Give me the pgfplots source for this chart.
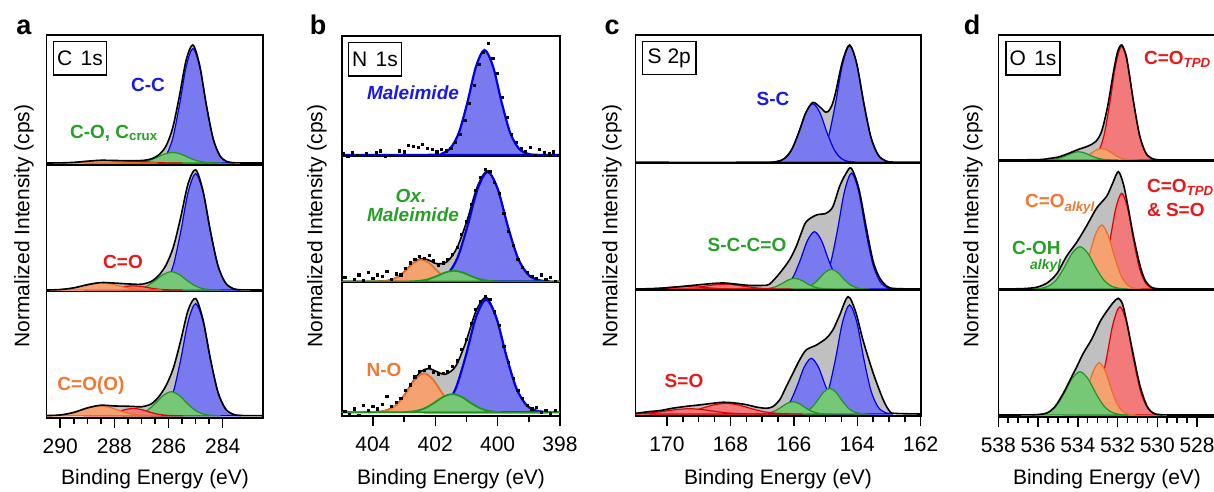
\documentclass[border=0pt]{standalone}
\usepackage{fontspec}
\setmainfont{Liberation Sans}
\usepackage{pgfplots}
\usepackage{pgfplotstable}
\pgfplotsset{compat=1.18}
\definecolor{envg}{RGB}{192,192,192}
\definecolor{bfill}{RGB}{122,122,240}
\definecolor{bline}{RGB}{0,0,225}
\definecolor{gfill}{RGB}{118,200,118}
\definecolor{gline}{RGB}{30,150,30}
\definecolor{rfill}{RGB}{242,122,122}
\definecolor{rline}{RGB}{225,0,0}
\definecolor{ofill}{RGB}{245,162,112}
\definecolor{oline}{RGB}{235,110,40}
\definecolor{btxt}{RGB}{25,25,235}
\definecolor{gtxt}{RGB}{40,160,40}
\definecolor{rtxt}{RGB}{232,25,25}
\definecolor{otxt}{RGB}{240,120,50}
\pgfplotsset{
  xps/.style={scale only axis, anchor=south west, x dir=reverse,
    axis line style={line width=0.8pt}, xtick=\empty, ytick=\empty,
    /pgf/number format/assume math mode=true, /pgf/number format/1000 sep={},
    tick label style={font=\fontsize{10.5}{12}\selectfont}},
  xpsbot/.style={xtick pos=bottom, tick align=outside, major tick length=5.3pt,
    minor tick length=3.3pt, every tick/.style={line width=0.75pt, black},
    xticklabel style={yshift=-1.8pt}},
  env/.style={fill=envg, draw=none, smooth},
  envline/.style={black, line width=0.8pt, smooth},
  comp/.style 2 args={fill=#1, draw=#2, line width=0.6pt, smooth},
  dots/.style={only marks, mark=square*, mark size=0.55pt, black},
}
% ---------- envelopes ----------
\pgfplotstableread{
E y
282.5 0
283.5 0.001
283.85 0.013
284.1 0.061
284.35 0.205
284.6 0.489
284.85 0.829
285.1 1.000
285.35 0.871
285.6 0.565
285.85 0.294
286.1 0.141
286.35 0.071
286.6 0.038
286.85 0.024
287.1 0.020
287.5 0.020
288.0 0.021
288.5 0.023
289.0 0.015
289.5 0.005
290.0 0.001
290.5 0
}\envAa
\pgfplotstableread{
E y
282.5 0
283.35 0.002
283.625 0.013
283.9 0.061
284.175 0.204
284.45 0.488
284.725 0.826
285.0 1.002
285.275 0.888
285.55 0.606
285.825 0.356
286.1 0.205
286.375 0.119
286.65 0.070
287.0 0.048
287.3 0.049
287.6 0.052
288.0 0.058
288.5 0.062
289.0 0.044
289.5 0.018
290.0 0.004
290.5 0
}\envAb
\pgfplotstableread{
E y
282.5 0
283.35 0.002
283.625 0.013
283.9 0.060
284.175 0.201
284.45 0.481
284.725 0.817
285.0 0.998
285.275 0.899
285.55 0.639
285.825 0.403
286.1 0.253
286.375 0.157
286.65 0.099
287.0 0.076
287.3 0.079
287.6 0.081
288.0 0.083
288.5 0.089
289.0 0.066
289.5 0.028
290.0 0.006
290.5 0.001
}\envAc
\pgfplotstableread{
E y
398 0
398.37 0.002
398.695 0.013
399.02 0.063
399.345 0.210
399.67 0.500
399.995 0.842
400.32 1.007
400.645 0.868
400.97 0.565
401.295 0.311
401.62 0.180
401.95 0.162
402.2 0.194
402.45 0.208
402.7 0.170
402.95 0.100
403.2 0.042
403.5 0.009
404 0
405 0
}\envBb
\pgfplotstableread{
E y
398 0
398.42 0.002
398.745 0.013
399.07 0.062
399.395 0.208
399.72 0.496
400.045 0.836
400.37 1.007
400.695 0.887
401.02 0.615
401.345 0.404
401.67 0.334
401.95 0.356
402.2 0.383
402.45 0.360
402.7 0.276
402.95 0.167
403.2 0.078
403.5 0.023
403.8 0.004
404.2 0
405 0
}\envBc
\pgfplotstableread{
E y
162 0
162.89 0.002
163.115 0.013
163.34 0.062
163.565 0.209
163.79 0.498
164.015 0.837
164.24 1.000
164.465 0.862
164.69 0.587
164.8 0.486
164.915 0.433
165.0 0.427
165.175 0.470
165.4 0.510
165.625 0.422
165.85 0.250
166.075 0.105
166.3 0.031
166.525 0.007
166.75 0.001
167.5 0
171 0
}\envCa
\pgfplotstableread{
E y
162 0
162.8 0.004
163.05 0.02
163.29 0.09
163.5 0.23
163.71 0.5
163.95 0.83
164.19 1.0
164.37 0.95
164.56 0.848
164.77 0.682
164.98 0.627
165.29 0.613
165.61 0.558
165.77 0.461
165.93 0.35
166.14 0.24
166.45 0.13
166.77 0.04
167.0 0.03
167.4 0.03
167.8 0.04
168.2 0.05
168.6 0.045
169.0 0.035
169.4 0.025
169.8 0.015
170.3 0.005
171 0
}\envCb
\pgfplotstableread{
E y
162 0
162.8 0.005
162.97 0.02
163.18 0.12
163.5 0.35
163.82 0.63
164.05 0.87
164.29 1.0
164.56 0.84
164.77 0.716
164.98 0.645
165.29 0.588
165.61 0.546
165.82 0.46
166.03 0.347
166.24 0.233
166.45 0.119
166.67 0.062
166.88 0.049
167.2 0.06
167.5 0.08
167.93 0.096
168.24 0.10
168.6 0.09
168.99 0.077
169.4 0.065
169.83 0.049
170.2 0.03
170.57 0.02
171 0.005
}\envCc
\pgfplotstableread{
E y
538 0
536 0.003
535.5 0.012
535 0.025
534.5 0.055
534 0.09
533.5 0.12
533.1 0.16
532.8 0.25
532.5 0.465
532.2 0.77
531.99 0.945
531.79 1.0
531.59 0.923
531.49 0.836
531.19 0.5
530.89 0.215
530.59 0.065
530.29 0.015
529.99 0.002
529.5 0
527 0
}\envDa
\pgfplotstableread{
E y
538 0
537 0.002
536.5 0.006
536.07 0.015
535.56 0.05
535.06 0.13
534.56 0.28
534.05 0.40
533.55 0.54
533.05 0.69
532.55 0.79
532.25 0.9
531.96 1.0
531.7 0.89
531.45 0.68
531.2 0.45
530.87 0.2
530.6 0.07
530.3 0.015
530.0 0.003
529.5 0
527 0
}\envDb
\pgfplotstableread{
E y
538 0
536.2 0.002
535.56 0.017
535.15 0.071
534.73 0.186
534.39 0.30
534.05 0.414
533.72 0.53
533.3 0.65
532.88 0.80
532.54 0.89
532.21 0.965
531.96 1.0
531.75 0.95
531.54 0.80
531.2 0.51
530.87 0.25
530.53 0.08
530.2 0.015
529.8 0.002
529 0
527 0
}\envDc
\begin{document}
\begin{tikzpicture}
\useasboundingbox (0,0) rectangle (607pt,246pt);
% ================= panel a =================
\begin{axis}[xps, at={(23.35pt,163.5pt)}, width=108.3pt, height=65pt,
  xmin=282.5, xmax=290.5, ymin=-0.017, ymax=1.085]
\addplot[env] table {\envAa} \closedcycle;
\addplot[comp={bfill}{bline}] coordinates {(283.6,0.0019)(283.85,0.0127)(284.1,0.0606)(284.35,0.2039)(284.6,0.485)(284.85,0.8157)(285.1,0.97)(285.35,0.8157)(285.6,0.485)(285.85,0.2039)(286.1,0.0606)(286.35,0.0127)(286.6,0.0019)} \closedcycle;
\addplot[comp={gfill}{gline}] coordinates {(284.05,0.0002)(284.35,0.0012)(284.65,0.0056)(284.95,0.0189)(285.25,0.045)(285.55,0.0757)(285.85,0.09)(286.15,0.0757)(286.45,0.045)(286.75,0.0189)(287.05,0.0056)(287.35,0.0012)(287.65,0.0002)} \closedcycle;
\addplot[comp={rfill}{rline}] coordinates {(285.5,0)(285.8,0.0002)(286.1,0.0009)(286.4,0.0032)(286.7,0.0075)(287.0,0.0126)(287.3,0.015)(287.6,0.0126)(287.9,0.0075)(288.2,0.0032)(288.5,0.0009)(288.8,0.0002)(289.1,0)} \closedcycle;
\addplot[comp={ofill}{oline}] coordinates {(286.4,0)(286.75,0.0003)(287.1,0.0014)(287.45,0.0046)(287.8,0.011)(288.15,0.0185)(288.5,0.022)(288.85,0.0185)(289.2,0.011)(289.55,0.0046)(289.9,0.0014)(290.25,0.0003)(290.6,0)} \closedcycle;
\addplot[envline] table {\envAa};
\end{axis}
\begin{axis}[xps, at={(23.35pt,100.15pt)}, width=108.3pt, height=63.35pt,
  xmin=282.5, xmax=290.5, ymin=-0.014, ymax=1.042]
\addplot[env] table {\envAb} \closedcycle;
\addplot[comp={bfill}{bline}] coordinates {(283.35,0.0019)(283.625,0.0127)(283.9,0.0606)(284.175,0.2039)(284.45,0.485)(284.725,0.8157)(285.0,0.97)(285.275,0.8157)(285.55,0.485)(285.825,0.2039)(286.1,0.0606)(286.375,0.0127)(286.65,0.0019)} \closedcycle;
\addplot[comp={gfill}{gline}] coordinates {(284.1,0.0003)(284.4,0.002)(284.7,0.0096)(285.0,0.0322)(285.3,0.0765)(285.6,0.1287)(285.9,0.153)(286.2,0.1287)(286.5,0.0765)(286.8,0.0322)(287.1,0.0096)(287.4,0.002)(287.7,0.0003)} \closedcycle;
\addplot[comp={rfill}{rline}] coordinates {(285.5,0.0001)(285.8,0.0005)(286.1,0.0022)(286.4,0.0074)(286.7,0.0175)(287.0,0.0294)(287.3,0.035)(287.6,0.0294)(287.9,0.0175)(288.2,0.0074)(288.5,0.0022)(288.8,0.0005)(289.1,0.0001)} \closedcycle;
\addplot[comp={ofill}{oline}] coordinates {(286.25,0.0001)(286.625,0.0008)(287.0,0.0038)(287.375,0.0126)(287.75,0.03)(288.125,0.0505)(288.5,0.06)(288.875,0.0505)(289.25,0.03)(289.625,0.0126)(290.0,0.0038)(290.375,0.0008)(290.75,0.0001)} \closedcycle;
\addplot[envline] table {\envAb};
\end{axis}
\begin{axis}[xps, xpsbot, at={(23.35pt,37.15pt)}, width=108.3pt, height=63pt,
  xmin=282.5, xmax=290.5, ymin=-0.017, ymax=1.056,
  xtick={284,286,288,290}, minor x tick num=3]
\addplot[env] table {\envAc} \closedcycle;
\addplot[comp={bfill}{bline}] coordinates {(283.35,0.0019)(283.625,0.0125)(283.9,0.0597)(284.175,0.2007)(284.45,0.4775)(284.725,0.8031)(285.0,0.955)(285.275,0.8031)(285.55,0.4775)(285.825,0.2007)(286.1,0.0597)(286.375,0.0125)(286.65,0.0019)} \closedcycle;
\addplot[comp={gfill}{gline}] coordinates {(284.1,0.0004)(284.4,0.0027)(284.7,0.0128)(285.0,0.0429)(285.3,0.102)(285.6,0.1715)(285.9,0.204)(286.2,0.1715)(286.5,0.102)(286.8,0.0429)(287.1,0.0128)(287.4,0.0027)(287.7,0.0004)} \closedcycle;
\addplot[comp={rfill}{rline}] coordinates {(285.5,0.0001)(285.8,0.0008)(286.1,0.0039)(286.4,0.013)(286.7,0.031)(287.0,0.0521)(287.3,0.062)(287.6,0.0521)(287.9,0.031)(288.2,0.013)(288.5,0.0039)(288.8,0.0008)(289.1,0.0001)} \closedcycle;
\addplot[comp={ofill}{oline}] coordinates {(286.3,0.0002)(286.675,0.0011)(287.05,0.0053)(287.425,0.0179)(287.8,0.0425)(288.175,0.0715)(288.55,0.085)(288.925,0.0715)(289.3,0.0425)(289.675,0.0179)(290.05,0.0053)(290.425,0.0011)(290.8,0.0002)} \closedcycle;
\addplot[envline] table {\envAc};
\end{axis}
% ================= panel b =================
\begin{axis}[xps, at={(170.85pt,167.65pt)}, width=109.15pt, height=60.35pt,
  xmin=398, xmax=405, ymin=-0.016, ymax=1.133]
\addplot[fill=bfill, draw=bline, line width=1.1pt, smooth] coordinates {(398,0)(398.77,0.002)(399.045,0.0131)(399.32,0.0625)(399.595,0.2102)(399.87,0.5)(400.145,0.8409)(400.42,1)(400.695,0.8409)(400.97,0.5)(401.245,0.2102)(401.52,0.0625)(401.795,0.0131)(402.07,0.002)(405,0)} \closedcycle;
\addplot[dots] coordinates {(404.95,0.01)(404.8,-0.01)(404.65,0.02)(404.5,0.0)(404.35,-0.02)(404.2,0.01)(404.05,-0.04)(403.9,0.02)(403.75,0.04)(403.6,-0.01)(403.45,0.0)(403.3,-0.02)(403.15,0.04)(403.0,0.03)(402.85,0.09)(402.7,0.08)(402.55,0.07)(402.4,0.1)(402.25,0.06)(402.1,0.05)(401.95,0.03)(401.8,0.05)(401.65,0.04)(401.5,0.06)(401.35,0.12)(401.2,0.2)(401.05,0.33)(400.9,0.49)(400.75,0.66)(400.6,0.86)(400.45,0.98)(400.3,1.06)(400.15,0.92)(400.0,0.78)(399.85,0.55)(399.7,0.36)(399.55,0.2)(399.4,0.12)(399.25,0.06)(399.1,0.03)(398.95,0.07)(398.8,0.0)(398.65,0.05)(398.5,0.02)(398.35,0.01)(398.2,0.03)(398.05,0.0)};
\end{axis}
\begin{axis}[xps, at={(170.85pt,104.65pt)}, width=109.15pt, height=63pt,
  xmin=398, xmax=405, ymin=-0.011, ymax=1.137]
\addplot[env] table {\envBb} \closedcycle;
\addplot[envline] table {\envBb};
\addplot[fill=bfill, draw=bline, line width=1.1pt, smooth] coordinates {(398.37,0.002)(398.695,0.0131)(399.02,0.0625)(399.345,0.2102)(399.67,0.5)(399.995,0.8409)(400.32,1)(400.645,0.8409)(400.97,0.5)(401.295,0.2102)(401.62,0.0625)(401.945,0.0131)(402.27,0.002)} \closedcycle;
\addplot[fill=ofill, draw=oline, line width=0.9pt, smooth] coordinates {(400.95,0.0004)(401.2,0.0026)(401.45,0.0125)(401.7,0.042)(401.95,0.1)(402.2,0.1682)(402.45,0.2)(402.7,0.1682)(402.95,0.1)(403.2,0.042)(403.45,0.0125)(403.7,0.0026)(403.95,0.0004)} \closedcycle;
\addplot[fill=gfill, draw=gline, line width=0.9pt, smooth] coordinates {(398,0)(399.75,0.0002)(400.025,0.0013)(400.3,0.0061)(400.575,0.0206)(400.85,0.049)(401.125,0.0824)(401.4,0.098)(401.675,0.0824)(401.95,0.049)(402.225,0.0206)(402.5,0.0061)(402.775,0.0013)(403.05,0.0002)(405,0)} \closedcycle;
\addplot[dots] coordinates {(404.9,0.04)(404.75,-0.05)(404.6,0.02)(404.45,0.06)(404.3,0.01)(404.15,0.08)(404.0,0.03)(403.85,0.06)(403.7,0.05)(403.55,0.09)(403.4,0.02)(403.25,0.07)(403.1,0.06)(402.95,0.12)(402.8,0.17)(402.65,0.2)(402.5,0.23)(402.35,0.21)(402.2,0.24)(402.05,0.19)(401.9,0.15)(401.75,0.17)(401.6,0.2)(401.45,0.25)(401.3,0.31)(401.15,0.43)(401.0,0.55)(400.85,0.7)(400.7,0.83)(400.55,0.95)(400.4,1.02)(400.25,1.0)(400.1,0.9)(399.95,0.8)(399.8,0.62)(399.65,0.46)(399.5,0.33)(399.35,0.2)(399.2,0.13)(399.05,0.08)(398.9,0.05)(398.75,0.03)(398.6,0.06)(398.45,0.02)(398.3,0.04)(398.15,0.0)};
\end{axis}
\begin{axis}[xps, xpsbot, at={(170.85pt,38.15pt)}, width=109.15pt, height=66.5pt,
  xmin=398, xmax=405, ymin=-0.03, ymax=1.137,
  xtick={398,400,402,404}, minor x tick num=1]
\addplot[env] table {\envBc} \closedcycle;
\addplot[envline] table {\envBc};
\addplot[fill=bfill, draw=bline, line width=1.1pt, smooth] coordinates {(398.42,0.0019)(398.745,0.013)(399.07,0.0619)(399.395,0.2081)(399.72,0.495)(400.045,0.8325)(400.37,0.99)(400.695,0.8325)(401.02,0.495)(401.345,0.2081)(401.67,0.0619)(401.995,0.013)(402.32,0.0019)} \closedcycle;
\addplot[fill=ofill, draw=oline, line width=0.9pt, smooth] coordinates {(400.635,0.0007)(400.9225,0.0045)(401.21,0.0214)(401.4975,0.0719)(401.785,0.171)(402.0725,0.2876)(402.36,0.342)(402.6475,0.2876)(402.935,0.171)(403.2225,0.0719)(403.51,0.0214)(403.7975,0.0045)(404.085,0.0007)} \closedcycle;
\addplot[fill=gfill, draw=gline, line width=0.9pt, smooth] coordinates {(398,0)(399.65,0.0003)(399.95,0.0021)(400.25,0.01)(400.55,0.0336)(400.85,0.08)(401.15,0.1345)(401.45,0.16)(401.75,0.1345)(402.05,0.08)(402.35,0.0336)(402.65,0.01)(402.95,0.0021)(403.25,0.0003)(405,0)} \closedcycle;
\addplot[dots] coordinates {(404.9,0.01)(404.75,-0.02)(404.6,0.03)(404.45,-0.025)(404.3,0.06)(404.15,0.02)(404.0,0.05)(403.85,0.03)(403.7,0.07)(403.55,0.14)(403.4,0.05)(403.25,0.09)(403.1,0.12)(402.95,0.19)(402.8,0.24)(402.65,0.31)(402.5,0.36)(402.35,0.37)(402.2,0.40)(402.05,0.35)(401.9,0.33)(401.75,0.34)(401.6,0.36)(401.45,0.4)(401.3,0.45)(401.15,0.55)(401.0,0.64)(400.85,0.78)(400.7,0.9)(400.55,0.97)(400.4,1.02)(400.25,0.99)(400.1,0.88)(399.95,0.76)(399.8,0.58)(399.65,0.44)(399.5,0.3)(399.35,0.19)(399.2,0.12)(399.05,0.06)(398.9,0.03)(398.75,0.04)(398.6,0.0)(398.45,0.02)(398.3,-0.01)(398.15,0.02)};
\end{axis}
% ================= panel c =================
\begin{axis}[xps, at={(317.65pt,164.35pt)}, width=142.7pt, height=64.15pt,
  xmin=162, xmax=171, ymin=-0.0085, ymax=1.085]
\addplot[env] table {\envCa} \closedcycle;
\addplot[comp={bfill}{bline}] coordinates {(162.89,0.0019)(163.115,0.0131)(163.34,0.0622)(163.565,0.2091)(163.79,0.4975)(164.015,0.8367)(164.24,0.995)(164.465,0.8367)(164.69,0.4975)(164.915,0.2091)(165.14,0.0622)(165.365,0.0131)(165.59,0.0019)} \closedcycle;
\addplot[comp={bfill}{bline}] coordinates {(164.05,0.001)(164.275,0.0066)(164.5,0.0313)(164.725,0.1051)(164.95,0.25)(165.175,0.4205)(165.4,0.5)(165.625,0.4205)(165.85,0.25)(166.075,0.1051)(166.3,0.0313)(166.525,0.0066)(166.75,0.001)} \closedcycle;
\addplot[envline] table {\envCa};
\end{axis}
\begin{axis}[xps, at={(317.65pt,101pt)}, width=142.7pt, height=63.35pt,
  xmin=162, xmax=171, ymin=-0.008, ymax=1.041]
\addplot[env] table {\envCb} \closedcycle;
\addplot[comp={bfill}{bline}] coordinates {(162.83,0.0019)(163.055,0.0126)(163.28,0.06)(163.505,0.2018)(163.73,0.48)(163.955,0.8073)(164.18,0.96)(164.405,0.8073)(164.63,0.48)(164.855,0.2018)(165.08,0.06)(165.305,0.0126)(165.53,0.0019)} \closedcycle;
\addplot[comp={bfill}{bline}] coordinates {(164.0,0.0009)(164.225,0.0062)(164.45,0.0297)(164.675,0.0998)(164.9,0.2375)(165.125,0.3994)(165.35,0.475)(165.575,0.3994)(165.8,0.2375)(166.025,0.0998)(166.25,0.0297)(166.475,0.0062)(166.7,0.0009)} \closedcycle;
\addplot[comp={gfill}{gline}] coordinates {(163.62,0.0003)(163.82,0.0021)(164.02,0.0102)(164.22,0.0343)(164.42,0.0815)(164.62,0.1371)(164.82,0.163)(165.02,0.1371)(165.22,0.0815)(165.42,0.0343)(165.62,0.0102)(165.82,0.0021)(166.02,0.0003)} \closedcycle;
\addplot[comp={gfill}{gline}] coordinates {(164.78,0.0002)(164.98,0.0012)(165.18,0.0056)(165.38,0.0187)(165.58,0.0445)(165.78,0.0748)(165.98,0.089)(166.18,0.0748)(166.38,0.0445)(166.58,0.0187)(166.78,0.0056)(166.98,0.0012)(167.18,0.0002)} \closedcycle;
\addplot[comp={rfill}{rline}] coordinates {(166.1,0.0001)(166.45,0.0005)(166.8,0.0025)(167.15,0.0084)(167.5,0.02)(167.85,0.0336)(168.2,0.04)(168.55,0.0336)(168.9,0.02)(169.25,0.0084)(169.6,0.0025)(169.95,0.0005)(170.3,0.0001)} \closedcycle;
\addplot[comp={rfill}{rline}] coordinates {(167.3,0)(167.65,0.0003)(168.0,0.0013)(168.35,0.0042)(168.7,0.01)(169.05,0.0168)(169.4,0.02)(169.75,0.0168)(170.1,0.01)(170.45,0.0042)(170.8,0.0013)(171.15,0.0003)(171.5,0)} \closedcycle;
\addplot[envline] table {\envCb};
\end{axis}
\begin{axis}[xps, xpsbot, at={(317.65pt,38.15pt)}, width=142.7pt, height=62.85pt,
  xmin=162, xmax=171, ymin=-0.0145, ymax=1.057,
  xtick={162,164,166,168,170}, minor x tick num=3]
\addplot[env] table {\envCc} \closedcycle;
\addplot[comp={bfill}{bline}] coordinates {(162.89,0.0018)(163.115,0.0122)(163.34,0.0581)(163.565,0.1955)(163.79,0.465)(164.015,0.782)(164.24,0.93)(164.465,0.782)(164.69,0.465)(164.915,0.1955)(165.14,0.0581)(165.365,0.0122)(165.59,0.0018)} \closedcycle;
\addplot[comp={bfill}{bline}] coordinates {(164.1,0.0009)(164.325,0.0062)(164.55,0.0297)(164.775,0.0998)(165.0,0.2375)(165.225,0.3994)(165.45,0.475)(165.675,0.3994)(165.9,0.2375)(166.125,0.0998)(166.35,0.0297)(166.575,0.0062)(166.8,0.0009)} \closedcycle;
\addplot[comp={gfill}{gline}] coordinates {(163.67,0.0004)(163.87,0.0029)(164.07,0.0137)(164.27,0.046)(164.47,0.1095)(164.67,0.1842)(164.87,0.219)(165.07,0.1842)(165.27,0.1095)(165.47,0.046)(165.67,0.0137)(165.87,0.0029)(166.07,0.0004)} \closedcycle;
\addplot[comp={gfill}{gline}] coordinates {(164.83,0.0002)(165.03,0.0014)(165.23,0.0066)(165.43,0.0221)(165.63,0.0525)(165.83,0.0883)(166.03,0.105)(166.23,0.0883)(166.43,0.0525)(166.63,0.0221)(166.83,0.0066)(167.03,0.0014)(167.23,0.0002)} \closedcycle;
\addplot[comp={rfill}{rline}] coordinates {(165.74,0.0002)(166.14,0.0012)(166.54,0.0057)(166.94,0.0191)(167.34,0.0455)(167.74,0.0765)(168.14,0.091)(168.54,0.0765)(168.94,0.0455)(169.34,0.0191)(169.74,0.0057)(170.14,0.0012)(170.54,0.0002)} \closedcycle;
\addplot[comp={rfill}{rline}] coordinates {(166.9,0.0001)(167.3,0.0006)(167.7,0.0028)(168.1,0.0095)(168.5,0.0225)(168.9,0.0378)(169.3,0.045)(169.7,0.0378)(170.1,0.0225)(170.5,0.0095)(170.9,0.0028)(171.3,0.0006)(171.7,0.0001)} \closedcycle;
\addplot[envline] table {\envCc};
\end{axis}
% ================= panel d =================
\begin{axis}[xps, at={(499.15pt,165.5pt)}, width=109.3pt, height=63pt,
  xmin=527, xmax=538, ymin=-0.0087, ymax=1.087]
\addplot[env] table {\envDa} \closedcycle;
\addplot[comp={rfill}{rline}] coordinates {(529.99,0.0019)(530.29,0.013)(530.59,0.0619)(530.89,0.2081)(531.19,0.495)(531.49,0.8325)(531.79,0.99)(532.09,0.8325)(532.39,0.495)(532.69,0.2081)(532.99,0.0619)(533.29,0.013)(533.59,0.0019)} \closedcycle;
\addplot[comp={ofill}{oline}] coordinates {(531.0,0.0002)(531.3,0.0013)(531.6,0.0063)(531.9,0.021)(532.2,0.05)(532.5,0.0841)(532.8,0.1)(533.1,0.0841)(533.4,0.05)(533.7,0.021)(534.0,0.0063)(534.3,0.0013)(534.6,0.0002)} \closedcycle;
\addplot[comp={gfill}{gline}] coordinates {(532.02,0.0001)(532.345,0.0009)(532.67,0.0045)(532.995,0.0151)(533.32,0.036)(533.645,0.0605)(533.97,0.072)(534.295,0.0605)(534.62,0.036)(534.945,0.0151)(535.27,0.0045)(535.595,0.0009)(535.92,0.0001)} \closedcycle;
\addplot[envline] table {\envDa};
\end{axis}
\begin{axis}[xps, at={(499.15pt,101pt)}, width=109.3pt, height=64.5pt,
  xmin=527, xmax=538, ymin=-0.0085, ymax=1.091]
\addplot[env] table {\envDb} \closedcycle;
\addplot[comp={rfill}{rline}] coordinates {(529.99,0.0016)(530.29,0.0107)(530.59,0.051)(530.89,0.1715)(531.19,0.408)(531.49,0.6862)(531.79,0.816)(532.09,0.6862)(532.39,0.408)(532.69,0.1715)(532.99,0.051)(533.29,0.0107)(533.59,0.0016)} \closedcycle;
\addplot[comp={ofill}{oline}] coordinates {(530.85,0.0011)(531.175,0.0072)(531.5,0.0341)(531.825,0.1148)(532.15,0.273)(532.475,0.4591)(532.8,0.546)(533.125,0.4591)(533.45,0.273)(533.775,0.1148)(534.1,0.0341)(534.425,0.0072)(534.75,0.0011)} \closedcycle;
\addplot[comp={gfill}{gline}] coordinates {(531.49,0.0007)(531.89,0.0047)(532.29,0.0226)(532.69,0.0759)(533.09,0.1805)(533.49,0.3036)(533.89,0.361)(534.29,0.3036)(534.69,0.1805)(535.09,0.0759)(535.49,0.0226)(535.89,0.0047)(536.29,0.0007)} \closedcycle;
\addplot[envline] table {\envDb};
\end{axis}
\begin{axis}[xps, xpsbot, at={(499.15pt,37.65pt)}, width=109.3pt, height=63.35pt,
  xmin=527, xmax=538, ymin=-0.0146, ymax=1.071,
  xtick={528,530,532,534,536,538}, minor x tick num=3]
\addplot[env] table {\envDc} \closedcycle;
\addplot[comp={rfill}{rline}] coordinates {(529.78,0.0018)(530.13,0.0122)(530.48,0.058)(530.83,0.1951)(531.18,0.464)(531.53,0.7804)(531.88,0.928)(532.23,0.7804)(532.58,0.464)(532.93,0.1951)(533.28,0.058)(533.63,0.0122)(533.98,0.0018)} \closedcycle;
\addplot[comp={ofill}{oline}] coordinates {(531.12,0.0009)(531.42,0.0059)(531.72,0.028)(532.02,0.0942)(532.32,0.224)(532.62,0.3767)(532.92,0.448)(533.22,0.3767)(533.52,0.224)(533.82,0.0942)(534.12,0.028)(534.42,0.0059)(534.72,0.0009)} \closedcycle;
\addplot[comp={gfill}{gline}] coordinates {(531.49,0.0007)(531.89,0.0049)(532.29,0.0232)(532.69,0.078)(533.09,0.1855)(533.49,0.312)(533.89,0.371)(534.29,0.312)(534.69,0.1855)(535.09,0.078)(535.49,0.0232)(535.89,0.0049)(536.29,0.0007)} \closedcycle;
\addplot[envline] table {\envDc};
\end{axis}
% ================= texts =================
\begin{scope}[x=0.5pt,y=-0.5pt,shift={(0pt,246pt)}]
\tikzset{lab/.style={font=\fontsize{10.5}{12}\selectfont},
  ann/.style={font=\fontsize{9.5}{11}\selectfont\bfseries},
  letter/.style={font=\fontsize{13.5}{15}\selectfont\bfseries, anchor=base},
  boxl/.style={draw, line width=0.7pt, inner sep=0pt, minimum height=16.6pt, font=\fontsize{10.5}{12}\selectfont}}
\node[letter] at (24,35) {a};
\node[letter] at (318,35) {b};
\node[letter] at (612,35) {c};
\node[letter] at (972,35) {d};
\foreach \xx in {24,317,612,973} {\node[lab, rotate=90] at (\xx,226) {Normalized Intensity (cps)};}
\node[lab] at (155,479) {Binding Energy (eV)};
\node[lab] at (451,479) {Binding Energy (eV)};
\node[lab] at (778,479) {Binding Energy (eV)};
\node[lab] at (1107,479) {Binding Energy (eV)};
\node[boxl, minimum width=26.7pt] at (80,58.3) {C\hspace{0.4em}1s};
\node[boxl, minimum width=26.7pt] at (375,59.3) {N\hspace{0.4em}1s};
\node[boxl, minimum width=26.7pt] at (669.3,57.9) {S 2p};
\node[boxl, minimum width=27pt] at (1033,58.3) {O\hspace{0.4em}1s};
% panel a
\node[ann, text=btxt] at (148,85) {C-C};
\node[ann, text=gtxt, anchor=base west] at (63,138.5) {C-O, C\textsubscript{crux}};
\node[ann, text=rtxt] at (123,262) {C=O};
\node[ann, text=otxt] at (91,386) {C=O(O)};
% panel b
\node[ann, text=btxt, font=\fontsize{9.5}{11}\selectfont\bfseries\itshape] at (413,92.5) {Maleimide};
\node[ann, text=gtxt, font=\fontsize{9.5}{11}\selectfont\bfseries\itshape] at (411,196) {Ox.};
\node[ann, text=gtxt, font=\fontsize{9.5}{11}\selectfont\bfseries\itshape] at (413,215) {Maleimide};
\node[ann, text=otxt] at (384,370) {N-O};
% panel c
\node[ann, text=btxt] at (773,99) {S-C};
\node[ann, text=gtxt] at (747,245) {S-C-C=O};
\node[ann, text=rtxt] at (684,381) {S=O};
% panel d
\node[ann, text=rtxt, anchor=base west] at (1137,65) {C=O\textsubscript{\itshape TPD}};
\node[ann, text=otxt, anchor=base west] at (1018,208) {C=O\textsubscript{\itshape alkyl}};
\node[ann, text=rtxt, anchor=base west] at (1140,193) {C=O\textsubscript{\itshape TPD}};
\node[ann, text=rtxt, anchor=base west] at (1140,217) {\& S=O};
\node[ann, text=gtxt, anchor=base west] at (1005,255) {C-OH};
\node[ann, text=gtxt, anchor=base west, font=\fontsize{7}{8}\selectfont\bfseries\itshape] at (1023,270) {alkyl};
\end{scope}
\end{tikzpicture}
\end{document}
